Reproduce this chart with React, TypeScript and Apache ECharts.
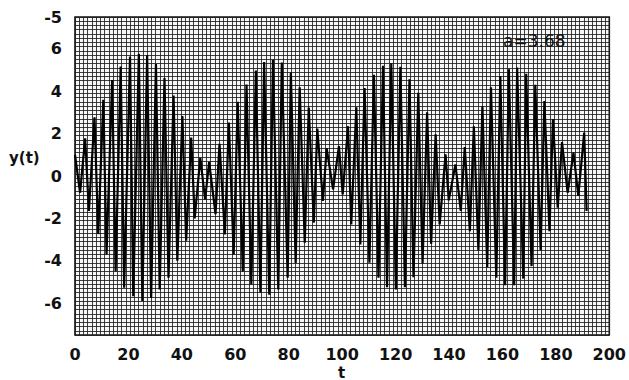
import React, { useEffect, useRef } from "react";
import * as echarts from "echarts";

// Sample times (peaks and troughs of the trace)
const tValues = [
  0, 1.9, 3.8, 5.2, 7.3, 8.7, 10.6, 11.8, 13.9, 15.2, 17.1, 18.4, 20.6, 21.8, 23.9, 25.2, 27.0, 28.5, 30.3, 31.7,
  33.5, 35.0, 36.9, 38.3, 40.2, 41.6, 43.5, 44.8, 46.9, 48.7, 50.2, 52.6, 54.1, 56.1, 57.6, 59.4, 60.9, 62.8, 64.2, 66.0,
  67.7, 69.4, 70.8, 72.7, 74.1, 76.1, 77.4, 79.6, 80.8, 82.6, 84.1, 86.0, 87.5, 89.4, 90.7, 92.8, 94.2, 96.6, 98.8, 100.2,
  102.2, 103.4, 105.3, 106.8, 108.4, 110.2, 111.9, 113.6, 115.3, 116.8, 118.4, 120.1, 121.8, 123.5, 125.2, 126.7, 128.5, 130.1, 131.8, 133.3,
  135.0, 136.5, 138.7, 139.9, 142.4, 144.4, 145.9, 147.8, 149.3, 151.0, 152.5, 154.3, 155.7, 157.7, 159.2, 161.0, 162.4, 164.4, 165.5, 167.8,
  168.9, 170.9, 172.3, 174.3, 175.7, 177.6, 178.9, 180.7, 182.3, 184.4, 186.6, 188.4, 190.6, 191.5,
];
const yValues = [
  1.0, -0.79, 1.78, -1.65, 2.77, -2.74, 3.6, -3.7, 4.53, -4.49, 5.16, -5.27, 5.63, -5.67, 5.77, -5.9, 5.7, -5.75, 5.28, -5.35,
  4.62, -4.8, 3.8, -4.0, 2.83, -3.05, 1.81, -2.0, 0.86, -1.1, 0.66, -1.8, 1.52, -2.76, 2.52, -3.7, 3.5, -4.5, 4.32, -5.12,
  4.97, -5.5, 5.38, -5.6, 5.48, -5.35, 5.35, -4.8, 4.88, -4.1, 4.18, -3.15, 3.23, -2.2, 2.24, -1.18, 1.3, -0.63, 1.41, -0.87,
  2.35, -2.28, 3.24, -3.23, 4.15, -4.09, 4.77, -4.8, 5.2, -5.25, 5.32, -5.35, 5.15, -5.25, 4.56, -4.78, 3.93, -4.13, 3.0, -3.2,
  1.97, -2.28, 1.02, -1.15, 0.55, -1.65, 1.36, -2.6, 2.35, -3.5, 3.3, -4.3, 4.18, -4.8, 4.72, -5.15, 5.04, -5.15, 5.12, -4.84,
  4.82, -4.25, 4.3, -3.5, 3.54, -2.6, 2.68, -1.5, 1.6, -0.79, 1.1, -0.94, 2.05, -1.65,
];

const xTickValues = [0, 20, 40, 60, 80, 100, 120, 140, 160, 180, 200];
const yTickValues = [-6, -4, -2, 0, 2, 4, 6, 7.5];
const yTickLabels = ["-6", "-4", "-2", "0", "2", "4", "6", "-5"];
const annotation = "a=3.68";
const xName = "t";
const yName = "y(t)";

export default function App() {
  const ref = useRef<HTMLDivElement>(null);
  useEffect(() => {
    if (!ref.current) return;
    const chart = echarts.init(ref.current, null, { renderer: "svg" });
    const data = tValues.map((t, i) => [t, yValues[i]]);
    const labelFont = {
      fontFamily: "DejaVu Sans, sans-serif",
      fontSize: 16,
      fontWeight: "bold" as const,
      color: "#111",
    };
    const gridLine = { color: "#1e1e1e", width: 0.85 };
    chart.setOption({
      animation: false,
      backgroundColor: "#fff",
      grid: {
        left: 75,
        top: 17,
        width: 535,
        height: 318,
        show: true,
        backgroundColor: "#f7f7f7",
        borderColor: "#111",
        borderWidth: 1.6,
      },
      xAxis: [
        {
          type: "value",
          min: 0,
          max: 200,
          interval: 20,
          axisLine: { show: false },
          axisTick: { show: false },
          splitLine: { show: false },
          axisLabel: { ...labelFont, margin: 11, customValues: xTickValues },
        },
        {
          type: "value",
          min: 0,
          max: 126,
          interval: 1,
          axisLine: { show: false },
          axisTick: { show: false },
          axisLabel: { show: false },
          splitLine: { show: true, lineStyle: gridLine },
        },
      ],
      yAxis: [
        {
          type: "value",
          min: -7.5,
          max: 7.5,
          interval: 0.5,
          axisLine: { show: false },
          axisTick: { show: false },
          splitLine: { show: false },
          axisLabel: {
            ...labelFont,
            margin: 13,
            customValues: yTickValues,
            formatter: (v: number) => {
              const i = yTickValues.indexOf(v);
              return i >= 0 ? yTickLabels[i] : "";
            },
          },
        },
        {
          type: "value",
          min: 0,
          max: 75,
          interval: 1,
          axisLine: { show: false },
          axisTick: { show: false },
          axisLabel: { show: false },
          splitLine: { show: true, lineStyle: gridLine },
        },
      ],
      graphic: [
        {
          type: "text",
          left: 503,
          top: 32,
          style: {
            text: annotation,
            font: "17px 'DejaVu Sans', sans-serif",
            fill: "#111",
          },
          z: 100,
        },
        {
          type: "text",
          left: 9,
          top: 150,
          style: {
            text: yName,
            font: "bold 15px 'DejaVu Sans', sans-serif",
            fill: "#111",
          },
        },
        {
          type: "text",
          left: 338,
          top: 365,
          style: {
            text: xName,
            font: "bold 15px 'DejaVu Sans', sans-serif",
            fill: "#111",
          },
        },
      ],
      series: [
        {
          type: "line",
          xAxisIndex: 0,
          yAxisIndex: 0,
          data,
          showSymbol: false,
          symbol: "none",
          lineStyle: { color: "#000", width: 2.2 },
          z: 10,
        },
      ],
    });
    return () => chart.dispose();
  }, []);
  return (
    <div
      ref={ref}
      style={{ position: "fixed", left: 0, top: 0, width: 629, height: 380 }}
    />
  );
}
